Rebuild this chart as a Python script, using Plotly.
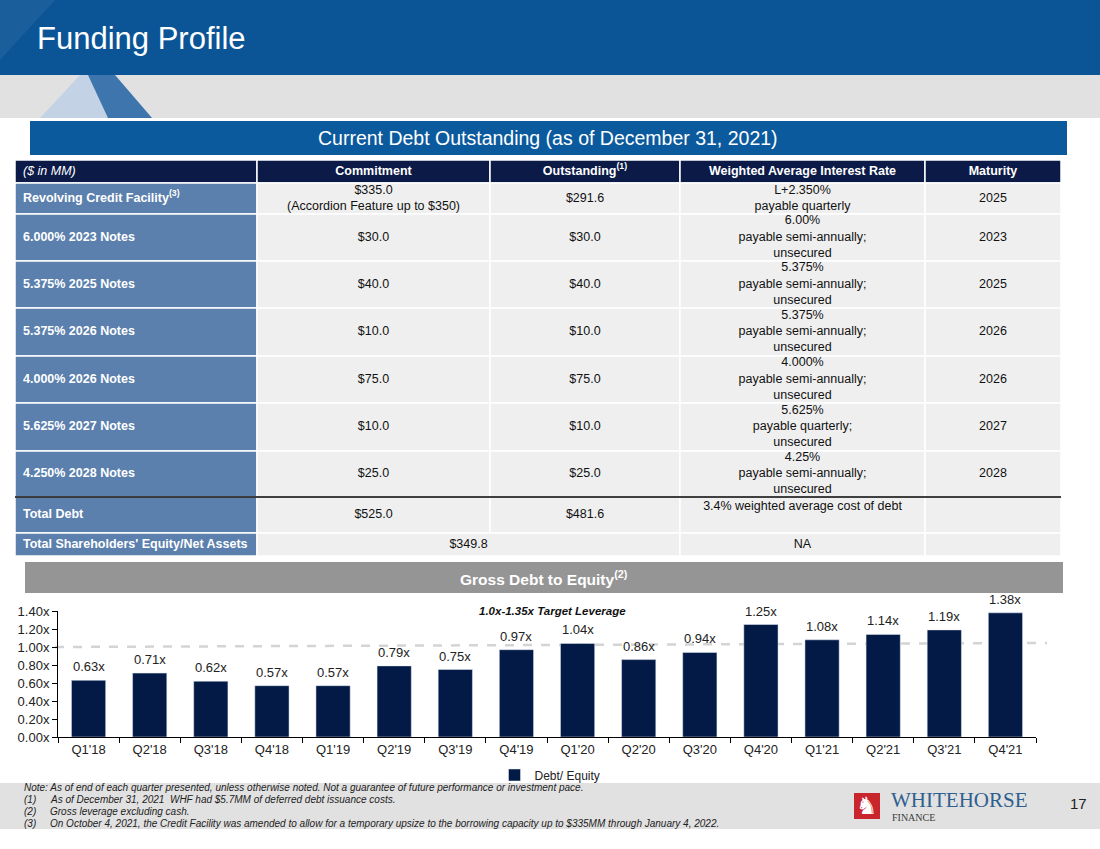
import plotly.graph_objects as go

W, H = 1100, 849
FONT = "Liberation Sans, Arial, sans-serif"
NARROW = "Liberation Sans Narrow, Arial Narrow, Liberation Sans, sans-serif"
SERIF = "Liberation Serif, Times New Roman, serif"

# gross debt to equity by quarter
quarters = ["Q1'18", "Q2'18", "Q3'18", "Q4'18", "Q1'19", "Q2'19", "Q3'19", "Q4'19",
            "Q1'20", "Q2'20", "Q3'20", "Q4'20", "Q1'21", "Q2'21", "Q3'21", "Q4'21"]
debt_to_equity = [0.63, 0.71, 0.62, 0.57, 0.57, 0.79, 0.75, 0.97,
                  1.04, 0.86, 0.94, 1.25, 1.08, 1.14, 1.19, 1.38]
series_name = "Debt/ Equity"
target_label = "1.0x-1.35x Target Leverage"

# current debt outstanding table
table_header = ["<i>($ in MM)</i>", "<b>Commitment</b>", "<b>Outstanding<sup>(1)</sup></b>",
                "<b>Weighted Average Interest Rate</b>", "<b>Maturity</b>"]
facility = ["Revolving Credit Facility<sup>(3)</sup>", "6.000% 2023 Notes", "5.375% 2025 Notes",
            "5.375% 2026 Notes", "4.000% 2026 Notes", "5.625% 2027 Notes", "4.250% 2028 Notes",
            "Total Debt", "Total Shareholders' Equity/Net Assets"]
commitment = ["$335.0<br>(Accordion Feature up to $350)", "$30.0", "$40.0", "$10.0", "$75.0",
              "$10.0", "$25.0", "$525.0", "$349.8"]
# None = commitment cell spans the outstanding column too
outstanding = ["$291.6", "$30.0", "$40.0", "$10.0", "$75.0", "$10.0", "$25.0", "$481.6", None]
interest_rate = ["L+2.350%<br>payable quarterly",
                 "6.00%<br>payable semi-annually;<br>unsecured",
                 "5.375%<br>payable semi-annually;<br>unsecured",
                 "5.375%<br>payable semi-annually;<br>unsecured",
                 "4.000%<br>payable semi-annually;<br>unsecured",
                 "5.625%<br>payable quarterly;<br>unsecured",
                 "4.25%<br>payable semi-annually;<br>unsecured",
                 "3.4% weighted average cost of debt<br> ",
                 "NA"]
maturity = ["2025", "2023", "2025", "2026", "2026", "2027", "2028", "", ""]

note_intro = ("Note: As of end of each quarter presented, unless otherwise noted. "
              "Not a guarantee of future performance or investment pace.")
footnotes = ["As of December 31, 2021  WHF had $5.7MM of deferred debt issuance costs.",
             "Gross leverage excluding cash.",
             "On October 4, 2021, the Credit Facility was amended to allow for a temporary upsize "
             "to the borrowing capacity up to $335MM through January 4, 2022."]

# slide geometry in pixels (drawn on a hidden pixel axis x2/y2)
COL_X = [15, 257, 490, 680, 925, 1061]
HEAD_Y = (160, 183)
ROW_Y = [183, 214, 261, 308, 356, 403, 451, 497, 533, 556]

NAVY = "#0b1a47"
STEEL = "#5b80ad"
CELL = "#efefef"
BLUE = "#0b5597"
BAR = "#031a47"


def rect(x0, y0, x1, y1, fill, line=None, lw=0):
    return dict(type="rect", xref="x2", yref="y2", x0=x0, y0=y0, x1=x1, y1=y1,
                fillcolor=fill, line=dict(color=line or fill, width=lw), layer="below")


def path(d, fill):
    return dict(type="path", xref="x2", yref="y2", path=d, fillcolor=fill,
                line=dict(width=0), layer="below")


def text_trace(xs, ys, texts, position, size=12.5, color="#111", family=FONT):
    # empty cells are left out
    keep = [i for i, t in enumerate(texts) if t]
    return go.Scatter(x=[xs[i] for i in keep], y=[ys[i] for i in keep],
                      text=[texts[i] for i in keep], mode="text", textposition=position,
                      textfont=dict(size=size, color=color, family=family),
                      xaxis="x2", yaxis="y2", showlegend=False, hoverinfo="skip",
                      cliponaxis=False)


def label(x, y, text, size, color="white", xanchor="center", family=FONT):
    return dict(xref="x2", yref="y2", x=x, y=y, text=text, showarrow=False,
                xanchor=xanchor, yanchor="middle", font=dict(size=size, color=color, family=family))


def slide_shapes():
    shapes = [
        rect(0, 0, W, 75, BLUE),
        path("M 0,0 L 55,0 L 0,60 Z", "#1a5f9c"),
        rect(0, 75, W, 118, "#e1e1e1"),
        path("M 40,118 L 80,75 L 115,75 L 152,118 Z", "#c3d3e5"),
        path("M 108,118 L 88,75 L 115,75 L 152,118 Z", "#3f75ad"),
        rect(30, 121, 1067, 155, "#0b5a9e"),
        rect(25, 562, 1063, 593, "#959595"),
        rect(0, 783, W, 829, "#e1e1e1"),
        rect(854, 793, 880, 819, "#c8262c"),
    ]
    return shapes


def table_shapes():
    shapes = []
    for c in range(5):
        shapes.append(rect(COL_X[c], HEAD_Y[0], COL_X[c + 1], HEAD_Y[1], NAVY, "white", 1.5))
    for r in range(len(facility)):
        for c in range(5):
            x1 = COL_X[c + 1]
            if outstanding[r] is None:
                if c == 2:
                    continue
                if c == 1:
                    x1 = COL_X[3]
            shapes.append(rect(COL_X[c], ROW_Y[r], x1, ROW_Y[r + 1],
                               STEEL if c == 0 else CELL, "white", 1.5))
    total_row = facility.index("Total Debt")
    shapes.append(dict(type="line", xref="x2", yref="y2", x0=COL_X[0], x1=COL_X[-1],
                       y0=ROW_Y[total_row], y1=ROW_Y[total_row], line=dict(color="black", width=1.5)))
    return shapes


def table_traces():
    n = len(facility)
    mids = [(COL_X[c] + COL_X[c + 1]) / 2 for c in range(5)]
    centers = [(ROW_Y[r] + ROW_Y[r + 1]) / 2 for r in range(n)]
    head_y = (HEAD_Y[0] + HEAD_Y[1]) / 2
    commit_x = [(COL_X[1] + COL_X[3]) / 2 if o is None else mids[1] for o in outstanding]
    return [
        text_trace([COL_X[0] + 8], [head_y], table_header[:1], "middle right", color="white"),
        text_trace(mids[1:], [head_y] * 4, table_header[1:], "middle center", color="white"),
        text_trace([COL_X[0] + 8] * n, centers, [f"<b>{t}</b>" for t in facility],
                   "middle right", color="white"),
        text_trace(commit_x, centers, commitment, "middle center"),
        text_trace([mids[2]] * n, centers, outstanding, "middle center"),
        text_trace([mids[3]] * n, centers, interest_rate, "middle center"),
        text_trace([mids[4]] * n, centers, maturity, "middle center"),
    ]


def bar_labels():
    # value labels sit a little above each bar
    return [dict(xref="x", yref="y", x=q, y=v, text=f"{v:.2f}x", showarrow=False,
                 yanchor="bottom", yshift=4, font=dict(size=13, color="#222"))
            for q, v in zip(quarters, debt_to_equity)]


def slide_labels():
    notes = [label(22, 787, f"<i>{note_intro}</i>", 10, "#222", "left", NARROW)]
    for i, note in enumerate(footnotes):
        y = 799 + 12 * i
        notes.append(label(22, y, f"<i>({i + 1})</i>", 10, "#222", "left", NARROW))
        notes.append(label(48, y, f"<i>{note}</i>", 10, "#222", "left", NARROW))
    return [
        label(35, 38, "Funding Profile", 31, xanchor="left"),
        label(548, 138, "Current Debt Outstanding (as of December 31, 2021)", 19.5),
        label(544, 578, "<b>Gross Debt to Equity<sup>(2)</sup></b>", 15.5),
        label(552, 611, f"<b><i>{target_label}</i></b>", 11.5, "#111"),
        label(867, 806, "♞", 24, "white", family="DejaVu Sans"),
        label(889, 800, "WHITEHORSE", 21, "#2e5f8f", "left", SERIF),
        label(890, 817, "FINANCE", 10, "#3a3a3a", "left", SERIF),
        label(1078, 803, "17", 15, "#222"),
    ] + notes


fig = go.Figure()
fig.add_trace(go.Bar(x=quarters, y=debt_to_equity, name=series_name, marker_color=BAR,
                     cliponaxis=False))
for t in table_traces():
    fig.add_trace(t)

target_line = dict(type="line", xref="x2", yref="y", x0=55, x1=1047, y0=1.0, y1=1.045,
                   line=dict(color="#d4d4d4", width=2.5, dash="dash"), layer="below")

fig.update_layout(
    width=W, height=H, autosize=False,
    # no autoexpand: the legend would otherwise push the top/bottom margins
    margin=dict(l=0, r=0, t=0, b=0, autoexpand=False),
    paper_bgcolor="white", plot_bgcolor="rgba(0,0,0,0)",
    font=dict(family=FONT, color="#222"),
    bargap=0.44,
    xaxis=dict(domain=[58 / W, 1036 / W], anchor="y", showline=True, linecolor="black",
               ticks="outside", tickson="boundaries", ticklen=5, tickcolor="black",
               tickfont=dict(size=13), showgrid=False, fixedrange=True),
    yaxis=dict(domain=[1 - 737 / H, 1 - 611 / H], anchor="x", range=[0, 1.4], dtick=0.2,
               tickformat=".2f", ticksuffix="x", showline=True, linecolor="black",
               ticks="outside", ticklen=5, tickcolor="black", tickfont=dict(size=13),
               showgrid=False, zeroline=False, fixedrange=True),
    xaxis2=dict(domain=[0, 1], range=[0, W], anchor="y2", visible=False, fixedrange=True),
    yaxis2=dict(domain=[0, 1], range=[H, 0], anchor="x2", visible=False, fixedrange=True),
    shapes=slide_shapes() + table_shapes() + [target_line],
    annotations=slide_labels() + bar_labels(),
    showlegend=True,
    legend=dict(orientation="h", x=0.5, y=1 - 775 / H, xanchor="center", yanchor="middle",
                font=dict(size=12, family=NARROW), bgcolor="rgba(0,0,0,0)",
                itemwidth=30),
)

# the page's default body margin would push the slide off the window
page_fix = ("document.documentElement.style.margin = '0';"
            "document.body.style.margin = '0';"
            "document.documentElement.style.overflow = 'hidden';")
fig.write_html("out.html", config={"displayModeBar": False}, post_script=page_fix)
